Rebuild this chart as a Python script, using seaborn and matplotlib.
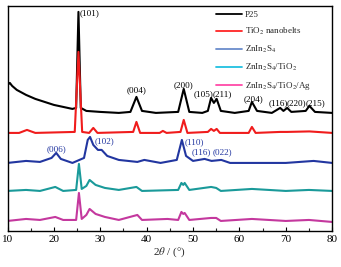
import matplotlib
matplotlib.use("Agg")
import matplotlib.pyplot as plt
from matplotlib.lines import Line2D
import seaborn as sns
import pandas as pd

# XRD patterns (intensity in arbitrary units, curves already offset)
p25_x = [10, 10.5, 11, 12, 14, 16, 18, 20, 22, 24, 24.8, 25.3, 25.8, 27, 30, 34, 36.5, 37.8, 39,
         42, 46.8, 48.0, 49.2, 52, 53.2, 53.9, 54.5, 55.1, 56, 59, 62, 62.7, 63.8, 67, 68.8, 69.5,
         70.3, 71.2, 74.3, 75.1, 76.3, 80]
p25_y = [146, 148, 145, 141, 136, 132, 129, 126, 124, 122, 123, 219, 123, 120, 119, 118, 119, 134, 120,
         118, 119, 142, 119, 118, 120, 133, 128, 132, 120, 118, 120, 129, 120, 118, 123, 120,
         123, 119, 120, 125, 119, 118]

tio2_x = [10, 12.5, 14.2, 16, 24.5, 25.3, 26.1, 27.6, 28.5, 29.4, 37.1, 37.8, 38.6, 42.8, 43.5, 44.3,
          47.3, 48.0, 48.8, 53.2, 53.9, 54.5, 55.1, 55.8, 62, 62.7, 63.5, 68.8, 70.3, 75.1, 80]
tio2_y = [98, 98, 101, 98, 99, 179, 99, 98, 103, 98, 99, 109, 98, 98, 100, 98,
          99, 111, 98, 99, 102, 100, 102, 98, 98, 104, 98, 99, 99, 99.5, 98]

zis_x = [10, 14, 17, 19.5, 20.5, 21.5, 24, 26.5, 27.3, 27.8, 28.5, 29.5, 30.3, 31.5, 34, 38, 39.5,
         43, 46.5, 47.6, 48.5, 50, 52.5, 54, 56.1, 58, 70, 76, 80]
zis_y = [68, 70, 69, 73, 78, 72, 68, 73, 91, 94, 86, 81, 81, 75, 71, 69, 71,
         68, 71, 91, 75, 70, 72, 70, 71, 68, 68, 70, 68]

zt_x = [10, 14, 17, 20.3, 22, 24.8, 25.4, 26, 27.0, 27.7, 29, 31, 34, 37.8, 39, 46.8, 47.5, 47.9,
        48.2, 49.2, 53.9, 55, 56, 62.7, 70, 75, 80]
zt_y = [40, 41, 40, 44, 40, 41, 67, 42, 45, 51, 46, 43, 41, 44, 40, 41, 48, 46,
        48, 41, 44, 43, 40, 42, 40, 41, 40]

zta_x = [10, 14, 17, 20.3, 22, 24.8, 25.4, 26, 27.0, 27.7, 29, 31, 34, 38, 39, 44.5, 46.8, 47.5,
         47.9, 48.2, 49.2, 53.9, 55, 56, 62.7, 70, 75, 80]
zta_y = [10, 12, 11, 14, 11, 11, 38, 12, 16, 22, 17, 14, 11, 16, 11, 12, 11, 19,
         17, 18, 11, 13, 13, 10, 12, 10, 11, 9]

labels = ["P25", "TiO$_2$ nanobelts", "ZnIn$_2$S$_4$", "ZnIn$_2$S$_4$/TiO$_2$",
          "ZnIn$_2$S$_4$/TiO$_2$/Ag"]
line_colors = ["#000000", "#f01c1c", "#2236a0", "#1a9a9a", "#c4389e"]
legend_colors = ["#000000", "#ff2424", "#6a8ccc", "#20c0e0", "#ff4aa8"]

# peak indices (hkl), label position in data coords
hkl_black = ["(101)", "(004)", "(200)", "(105)", "(211)", "(204)", "(116)", "(220)", "(215)"]
hkl_black_x = [27.8, 37.8, 48.0, 52.2, 56.3, 63.0, 68.5, 72.4, 76.5]
hkl_black_y = [218, 141, 146, 137, 137, 132, 128, 128, 128]
hkl_blue = ["(006)", "(102)", "(110)", "(116)", "(022)"]
hkl_blue_x = [20.5, 30.9, 50.3, 51.8, 56.3]
hkl_blue_y = [82, 90, 89, 79, 79]

frames = []
for name, xs, ys in zip(labels, [p25_x, tio2_x, zis_x, zt_x, zta_x],
                        [p25_y, tio2_y, zis_y, zt_y, zta_y]):
    frames.append(pd.DataFrame({"2theta": xs, "I": ys, "sample": name}))
df = pd.concat(frames, ignore_index=True)

sns.set_style("ticks")
plt.rcParams["font.family"] = ["Liberation Serif", "DejaVu Serif"]
plt.rcParams["mathtext.fontset"] = "stix"

fig = plt.figure(figsize=(3.41, 2.67), dpi=100)
ax = fig.add_axes([0.022, 0.135, 0.952, 0.843])

sns.lineplot(data=df, x="2theta", y="I", hue="sample", palette=line_colors,
             estimator=None, sort=False, linewidth=1.5, legend=False, ax=ax)

for t, x, y in zip(hkl_black, hkl_black_x, hkl_black_y):
    ax.text(x, y, t, fontsize=6.6, ha="center", va="center", color="black")
for t, x, y in zip(hkl_blue, hkl_blue_x, hkl_blue_y):
    ax.text(x, y, t, fontsize=6.6, ha="center", va="center", color="#2236a0")

handles = [Line2D([0], [0], color=c, lw=1.3) for c in legend_colors]
ax.legend(handles, labels, loc="upper right", bbox_to_anchor=(0.95, 1.0), frameon=False,
          fontsize=6.5, handlelength=2.8, handletextpad=0.4, labelspacing=0.75,
          borderaxespad=0.15)

ax.set_xlim(10, 80)
ax.set_ylim(0, 225)
ax.set_xticks(range(10, 81, 10))
ax.set_xticks(range(15, 80, 10), minor=True)
ax.set_yticks([])
ax.tick_params(axis="x", direction="in", length=3, width=0.8, labelsize=8, pad=3,
               colors="black")
ax.tick_params(axis="x", which="minor", direction="in", length=2, width=0.8)
for s in ax.spines.values():
    s.set_linewidth(1.0)
    s.set_color("black")
    s.set_visible(True)
ax.set_xlabel(r"2$\theta$ / (°)", fontsize=8, labelpad=1)
ax.set_ylabel("")

fig.savefig("out.png", dpi=100)
